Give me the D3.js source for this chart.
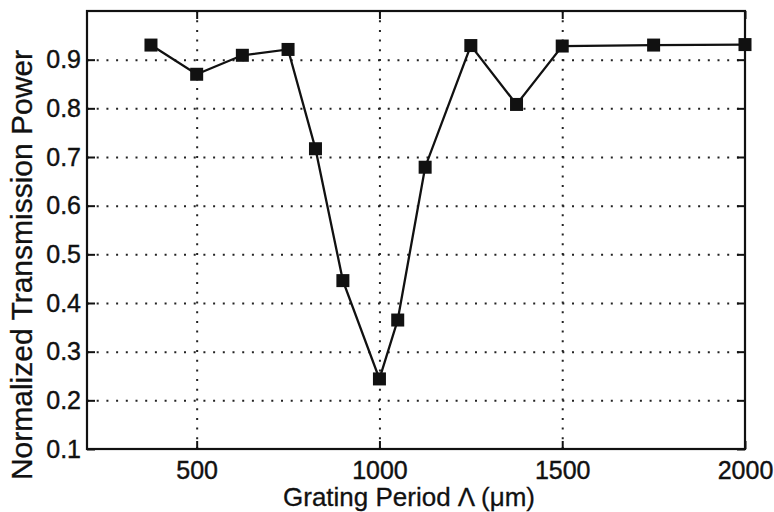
<!DOCTYPE html>
<html>
<head>
<meta charset="utf-8">
<script src="https://cdn.jsdelivr.net/npm/d3@7"></script>
<style>
  body { margin: 0; background: #fff; }
  text { font-family: "Liberation Sans", Arial, sans-serif; fill: #111; }
</style>
</head>
<body>
<div id="chart"></div>
<script>
// grating period (um) and normalized transmission power
const periods = [375, 500, 625, 750, 825, 900, 1000, 1050, 1125, 1250, 1375, 1500, 1750, 2000];
const power = [0.930, 0.870, 0.909, 0.921, 0.717, 0.446, 0.244, 0.365, 0.679, 0.929, 0.808, 0.928, 0.930, 0.931];
const xTicks = [500, 1000, 1500, 2000];
const yTicks = [0.1, 0.2, 0.3, 0.4, 0.5, 0.6, 0.7, 0.8, 0.9];

const margin = { top: 11, right: 29, bottom: 63, left: 87 };
const width = 774 - margin.left - margin.right;
const height = 512 - margin.top - margin.bottom;

const xScale = d3.scaleLinear().domain([200, 2000]).range([0, width]);
const yScale = d3.scaleLinear().domain([0.1, 1.0]).range([height, 0]);

const svg = d3.select("#chart")
    .append("svg")
    .attr("width", width + margin.left + margin.right)
    .attr("height", height + margin.top + margin.bottom)
    .append("g")
    .attr("transform", `translate(${margin.left}, ${margin.top})`);

// dotted grid
svg.append("g")
    .attr("class", "grid")
    .attr("transform", `translate(0, ${height})`)
    .call(d3.axisBottom(xScale).tickValues(xTicks.filter(d => d < 2000)).tickSize(-height).tickFormat(''));

svg.append("g")
    .attr("class", "grid")
    .call(d3.axisLeft(yScale).tickValues(yTicks.filter(d => d > 0.1)).tickSize(-width).tickFormat(''));

svg.selectAll(".grid .tick line")
    .style("stroke", "#222")
    .style("stroke-width", 2)
    .style("stroke-dasharray", "2,7.7");
svg.selectAll(".grid .domain").remove();

// axes with inward ticks
svg.append("g")
    .attr("transform", `translate(0, ${height})`)
    .call(d3.axisBottom(xScale).tickValues(xTicks).tickSizeInner(-8).tickSizeOuter(0).tickPadding(12).tickFormat(d3.format("d")));

svg.append("g")
    .call(d3.axisLeft(yScale).tickValues(yTicks).tickSizeInner(-8).tickSizeOuter(0).tickPadding(6).tickFormat(d3.format(".1f")));

svg.append("g")
    .call(d3.axisTop(xScale).tickValues(xTicks).tickSizeInner(-8).tickSizeOuter(0).tickFormat(''));

svg.append("g")
    .attr("transform", `translate(${width}, 0)`)
    .call(d3.axisRight(yScale).tickValues(yTicks).tickSizeInner(-8).tickSizeOuter(0).tickFormat(''));

svg.selectAll(".tick line").filter(function() { return !this.closest(".grid"); })
    .style("stroke", "#111")
    .style("stroke-width", 2);

svg.selectAll(".tick text")
    .style("font-size", "25px")
    .style("fill", "#111")
    .style("stroke", "#111")
    .style("stroke-width", 0.4);

svg.selectAll(".domain").remove();

// frame
svg.append("rect")
    .attr("x", 0)
    .attr("y", 0)
    .attr("width", width)
    .attr("height", height)
    .style("fill", "none")
    .style("stroke", "#111")
    .style("stroke-width", 2.2);

// data line and square markers
const line = d3.line()
    .x((d, i) => xScale(periods[i]))
    .y(d => yScale(d));

svg.append("path")
    .datum(power)
    .attr("d", line)
    .style("fill", "none")
    .style("stroke", "#111")
    .style("stroke-width", 2.3);

const ms = 13;
svg.selectAll(".point")
    .data(power)
    .enter().append("rect")
    .attr("class", "point")
    .attr("x", (d, i) => xScale(periods[i]) - ms / 2)
    .attr("y", d => yScale(d) - ms / 2)
    .attr("width", ms)
    .attr("height", ms)
    .style("fill", "#111");

// axis labels
svg.append("text")
    .attr("x", width / 2 - 7)
    .attr("y", height + 57)
    .style("text-anchor", "middle")
    .style("font-size", "26px")
    .style("stroke", "#111")
    .style("stroke-width", 0.3)
    .text("Grating Period \u039B (\u03BCm)");

svg.append("text")
    .attr("transform", "rotate(-90)")
    .attr("x", -(265 - margin.top))
    .attr("y", 32 - margin.left)
    .style("text-anchor", "middle")
    .style("font-size", "30px")
    .style("stroke", "#111")
    .style("stroke-width", 0.3)
    .text("Normalized Transmission Power");
</script>
</body>
</html>
